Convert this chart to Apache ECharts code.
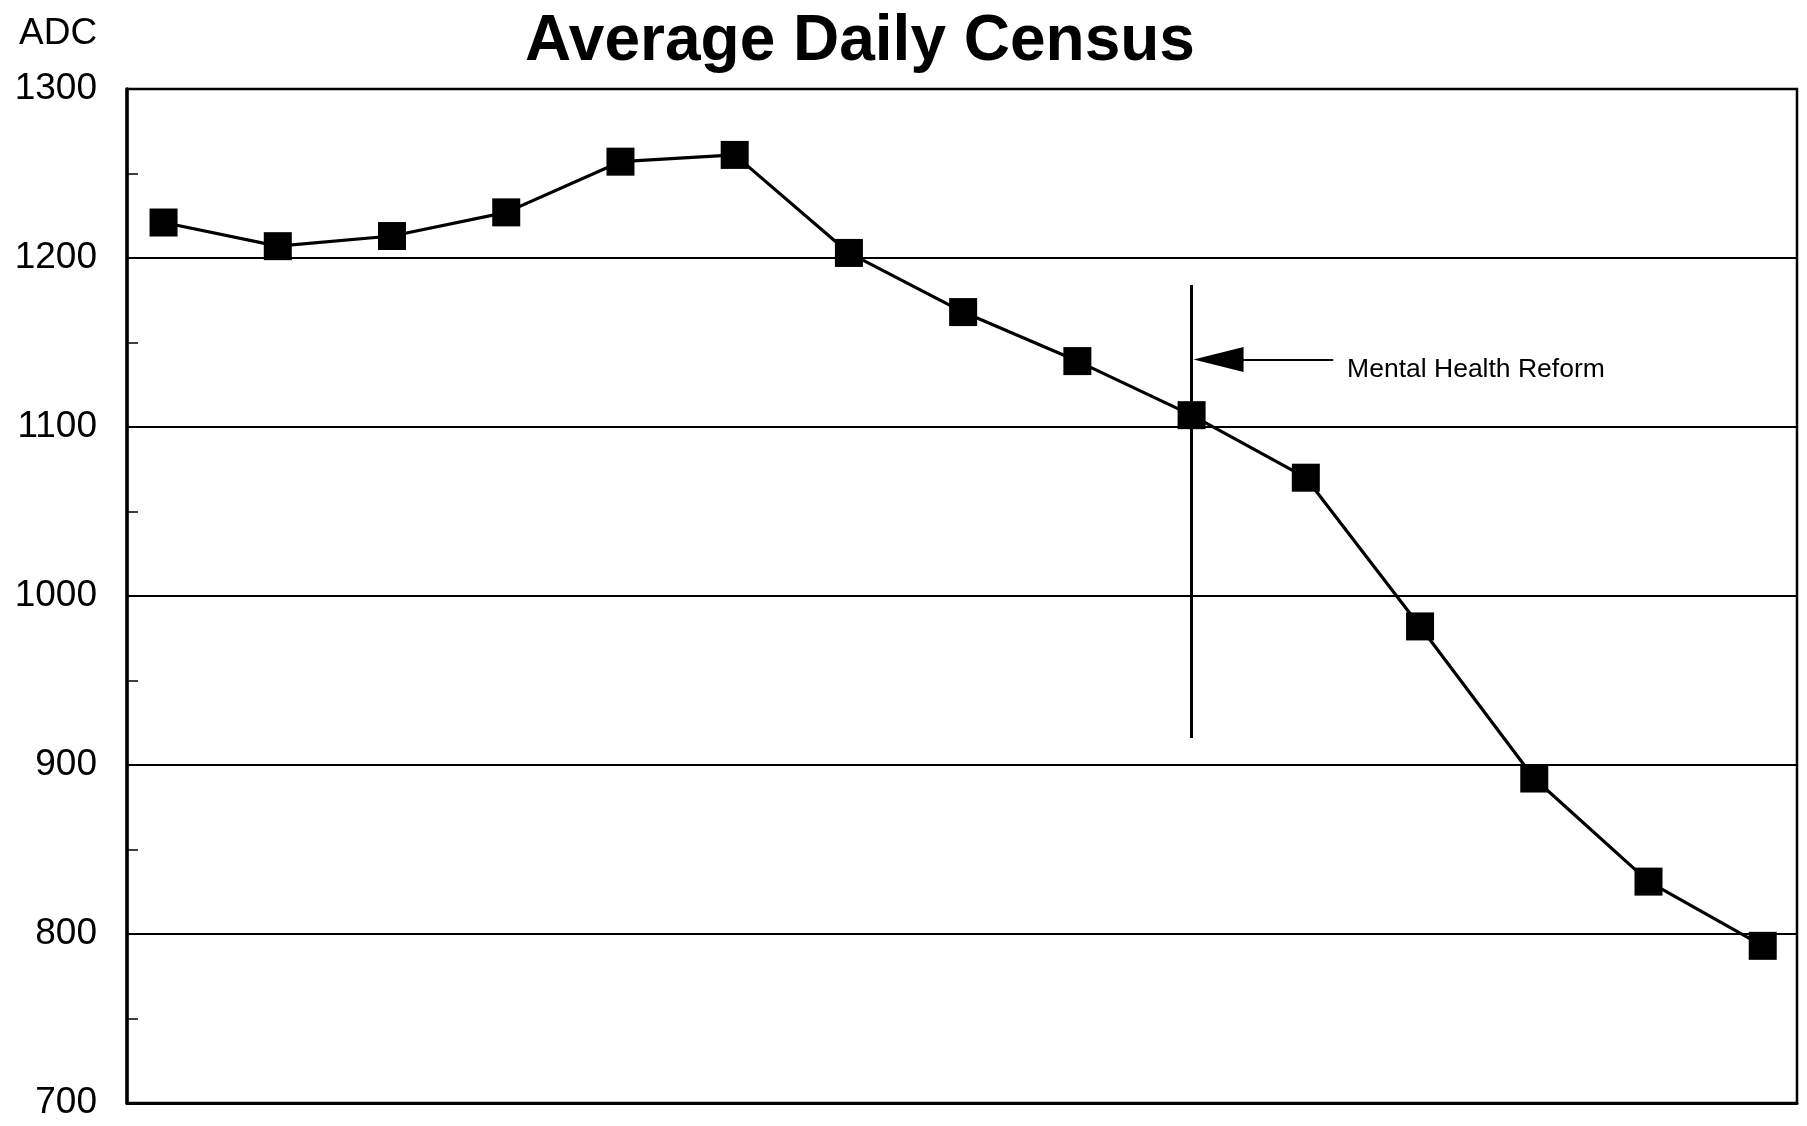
<!DOCTYPE html>
<html>
<head>
<meta charset="utf-8">
<title>Average Daily Census</title>
<script src="https://cdn.jsdelivr.net/npm/echarts@6/dist/echarts.min.js"></script>
<style>
  html, body { margin: 0; padding: 0; background: #fff; }
  #chart { width: 1807px; height: 1126px; }
</style>
</head>
<body>
<div id="chart"></div>
<script>
// Reporting periods, in order (no axis labels are printed for them)
const periods = [0, 1, 2, 3, 4, 5, 6, 7, 8, 9, 10, 11, 12, 13, 14];
// Average daily census for each period
const adc = [1221, 1207, 1213, 1227, 1257, 1261, 1203, 1168, 1139, 1107, 1070, 982, 892, 831, 793];
// Value axis ticks
const yTicks = [700, 800, 900, 1000, 1100, 1200, 1300];

// Mental Health Reform marker: period index and the span of the vertical rule
const reformPeriod = 9;
const reformSpan = [1184, 916];
const reformLabel = 'Mental Health Reform';

const FONT = '"Liberation Sans", Arial, Helvetica, sans-serif';
const yStep = yTicks[1] - yTicks[0];

const chart = echarts.init(document.getElementById('chart'), null, { renderer: 'canvas' });

chart.setOption({
  animation: false,
  backgroundColor: '#ffffff',
  title: [
    {
      text: 'Average Daily Census',
      left: 520,
      top: 5,
      textStyle: { fontFamily: FONT, fontSize: 64, fontWeight: 'bold', color: '#000' }
    },
    {
      text: 'ADC',
      left: 14,
      top: 10,
      textStyle: { fontFamily: FONT, fontSize: 37, fontWeight: 'normal', color: '#000' }
    }
  ],
  grid: {
    left: 127, right: 10, top: 89, bottom: 23,
    show: true, borderColor: '#000', borderWidth: 2.5, backgroundColor: 'transparent'
  },
  xAxis: {
    type: 'value',
    min: -0.32,
    max: 14.30,
    axisLine: { show: true, onZero: false, lineStyle: { color: '#000', width: 3 } },
    axisTick: { show: false },
    axisLabel: { show: false },
    splitLine: { show: false }
  },
  yAxis: {
    type: 'value',
    min: yTicks[0],
    max: yTicks[yTicks.length - 1],
    interval: yStep,
    axisLine: { show: true, onZero: false, lineStyle: { color: '#000', width: 3.5 } },
    axisTick: { show: true, inside: true, length: 11, lineStyle: { color: '#000', width: 1.5 } },
    minorTick: { show: true, splitNumber: 2, length: 11, lineStyle: { color: '#000', width: 1.5 } },
    splitLine: { show: true, lineStyle: { color: '#000', width: 1.8 } },
    axisLabel: {
      margin: 30,
      fontFamily: FONT,
      fontSize: 37,
      color: '#000',
      padding: [9, 0, 0, 0],
      formatter: (v) => String(v)
    }
  },
  series: [
    {
      type: 'line',
      data: periods.map((p, i) => [p, adc[i]]),
      symbol: 'rect',
      symbolSize: 28,
      itemStyle: { color: '#000' },
      lineStyle: { color: '#000', width: 3.2 },
      z: 3,
      markLine: {
        silent: true,
        animation: false,
        label: { show: false },
        lineStyle: { color: '#000', width: 3, type: 'solid' },
        data: [
          // vertical rule at the reform period
          [
            { coord: [reformPeriod, reformSpan[0]], symbol: 'none' },
            { coord: [reformPeriod, reformSpan[1]], symbol: 'none' }
          ],
          // pointer arrow to the rule
          [
            { coord: [10.24, 1140], symbol: 'none', lineStyle: { width: 2 } },
            { coord: [9.236, 1140], symbol: 'triangle', symbolSize: [25, 50], lineStyle: { width: 2 } }
          ]
        ]
      },
      markPoint: {
        silent: true,
        animation: false,
        data: [
          {
            coord: [10.357, 1134],
            symbol: 'rect',
            symbolSize: 1,
            itemStyle: { color: 'rgba(0,0,0,0)' },
            label: {
              show: true,
              formatter: reformLabel,
              position: 'right',
              distance: 0,
              fontFamily: FONT,
              fontSize: 26.5,
              color: '#000'
            }
          }
        ]
      }
    }
  ]
});
</script>
</body>
</html>
